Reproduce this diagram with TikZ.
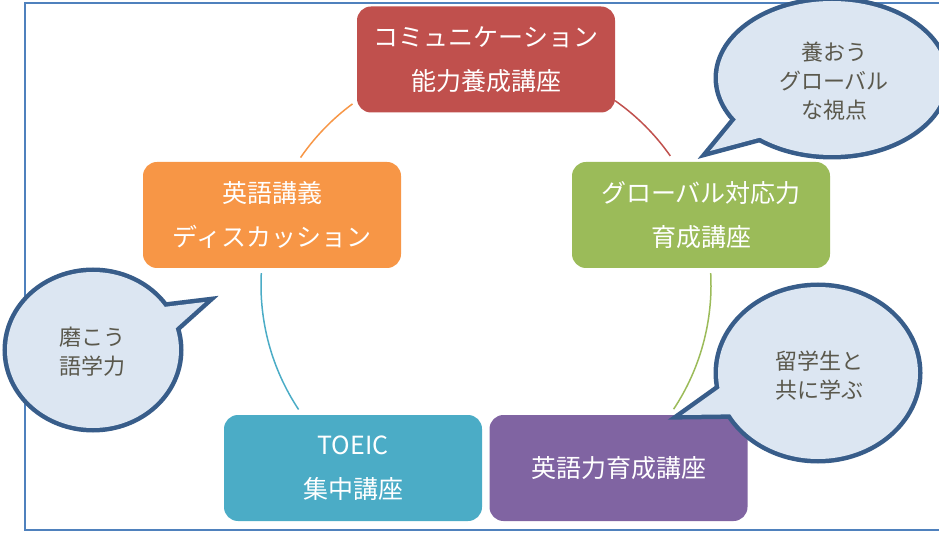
\documentclass[tikz,border=0pt]{standalone}
\usepackage{fontspec}
\newfontfamily\jp{Noto Sans CJK JP}
\usetikzlibrary{calc}
\definecolor{cred}{HTML}{C0504D}
\definecolor{cgreen}{HTML}{9BBB59}
\definecolor{corange}{HTML}{F79646}
\definecolor{cteal}{HTML}{4BACC6}
\definecolor{cpurple}{HTML}{8064A2}
\definecolor{frameblue}{HTML}{4F81BD}
\definecolor{callfill}{HTML}{DCE6F2}
\definecolor{callline}{HTML}{385D8A}
\definecolor{calltext}{HTML}{5A584C}
\begin{document}
\begin{tikzpicture}[x=1pt,y=1pt,
  box/.style={rounded corners=14pt, minimum width=258pt, minimum height=106pt,
    text=white, font=\jp\fontsize{25}{44}\selectfont, align=center, inner sep=0pt},
  ring/.style={line width=1.5pt},
  cstroke/.style={draw=callline, line width=9pt, line join=miter},
  cfill/.style={fill=callfill},
  ctext/.style={text=calltext, font=\jp\fontsize{22}{29}\selectfont, align=center, inner sep=0pt},
  frameline/.style={draw=frameblue, line width=2pt}]
\useasboundingbox (0,0) rectangle (939,533);
% frame
\draw[frameline] (940,530) -- (24.5,530) -- (24.5,3) -- (940,3);
% circle centre
\coordinate (C) at (486,248);
% ring arcs
\draw[ring, cred]    ($(C)+(55:225)$)    arc[start angle=55,    end angle=35,    radius=225];
\draw[ring, cgreen]  ($(C)+(3:225)$)     arc[start angle=3,     end angle=-33.5, radius=225];
\draw[ring, cteal]   ($(C)+(213.6:225)$) arc[start angle=213.6, end angle=177,   radius=225];
\draw[ring, corange] ($(C)+(145.5:225)$) arc[start angle=145.5, end angle=126.4, radius=225];
% boxes
\node[box, fill=cred]    (comm)  at (486,473.5) {コミュニケーション\\能力養成講座};
\node[box, fill=cgreen]  (glob)  at (701,318)   {グローバル対応力\\育成講座};
\node[box, fill=cpurple] (eng)   at (618.5,65)  {英語力育成講座};
\node[box, fill=cteal]   (toeic) at (353,65)    {TOEIC\\集中講座};
\node[box, fill=corange] (disc)  at (272,318)   {英語講義\\ディスカッション};
% callout strokes
\draw[cstroke] (832,455) ellipse[x radius=114, y radius=77];
\draw[cstroke] (747,427) -- (710,382) -- (781,401) -- cycle;
\draw[cstroke] (93,183) ellipse[x radius=86, y radius=78];
\draw[cstroke] (139,223) -- (205,231) -- (157,188) -- cycle;
\draw[cstroke] (818,160) ellipse[x radius=100, y radius=86];
\draw[cstroke] (738,158) -- (682,118) -- (759,119) -- cycle;
% callout fills
\fill[cfill] (832,455) ellipse[x radius=114, y radius=77];
\fill[cfill] (747,427) -- (710,382) -- (781,401) -- cycle;
\fill[cfill] (93,183) ellipse[x radius=86, y radius=78];
\fill[cfill] (139,223) -- (205,231) -- (157,188) -- cycle;
\fill[cfill] (818,160) ellipse[x radius=100, y radius=86];
\fill[cfill] (738,158) -- (682,118) -- (759,119) -- cycle;
% callout texts
\node[ctext] (c1) at (834,452) {養おう\\グローバル\\な視点};
\node[ctext] (c2) at (92.5,181) {磨こう\\語学力};
\node[ctext] (c3) at (819,157) {留学生と\\共に学ぶ};
\end{tikzpicture}
\end{document}
